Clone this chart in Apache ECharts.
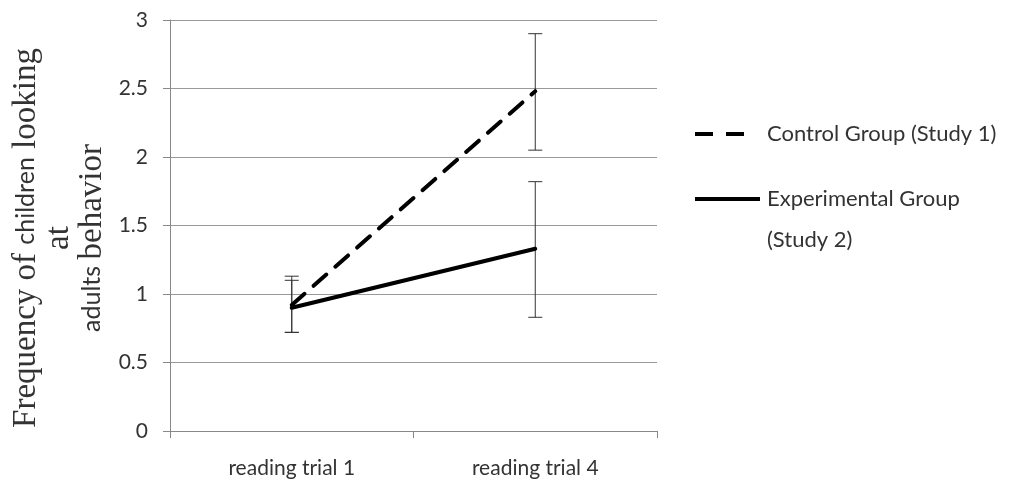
<!DOCTYPE html>
<html>
<head>
<meta charset="utf-8">
<script src="https://cdn.jsdelivr.net/npm/echarts@6/dist/echarts.min.js"></script>
<style>html,body{margin:0;padding:0;background:#fff}#c{width:1009px;height:487px}</style>
</head>
<body>
<div id="c"></div>
<script>
const categories = ['reading trial 1', 'reading trial 4'];
const controlValues = [0.92, 2.48];
const controlUpper = [1.13, 2.90];
const controlLower = [0.72, 2.05];
const experimentalValues = [0.90, 1.33];
const experimentalUpper = [1.10, 1.82];
const experimentalLower = [0.72, 0.83];
const yTicks = [0, 0.5, 1, 1.5, 2, 2.5, 3];

const chart = echarts.init(document.getElementById('c'), null, {renderer: 'canvas'});
const labelFont = 'Lato, "Open Sans", sans-serif';

function errData(up, lo) { return categories.map((c, i) => [i, lo[i], up[i]]); }
function errorRender(params, api) {
  const x = api.value(0);
  const lo = api.coord([x, api.value(1)]);
  const hi = api.coord([x, api.value(2)]);
  const w = 7;
  const st = {stroke: '#333', lineWidth: 1};
  return {type: 'group', children: [
    {type: 'line', shape: {x1: lo[0], y1: lo[1], x2: hi[0], y2: hi[1]}, style: st},
    {type: 'line', shape: {x1: hi[0]-w, y1: hi[1], x2: hi[0]+w, y2: hi[1]}, style: st},
    {type: 'line', shape: {x1: lo[0]-w, y1: lo[1], x2: lo[0]+w, y2: lo[1]}, style: st}
  ]};
}

chart.setOption({
  animation: false,
  backgroundColor: '#fff',
  grid: {left: 170, right: 352, top: 20, bottom: 56, containLabel: false},
  xAxis: {
    type: 'category', data: categories, boundaryGap: true,
    axisLine: {lineStyle: {color: '#888', width: 1}},
    axisTick: {show: true, length: 7, lineStyle: {color: '#888'}},
    axisLabel: {color: '#333', fontSize: 21, fontFamily: labelFont, margin: 27}
  },
  yAxis: {
    type: 'value', min: yTicks[0], max: yTicks[yTicks.length-1], interval: 0.5,
    axisLine: {show: true, lineStyle: {color: '#888', width: 1}},
    axisTick: {show: true, length: 7, lineStyle: {color: '#888'}},
    axisLabel: {color: '#333', fontSize: 21, fontFamily: labelFont, margin: 22},
    splitLine: {show: true, lineStyle: {color: '#999', width: 1}}
  },
  series: [
    {name: 'Control Group (Study 1)', type: 'line', data: controlValues, symbol: 'none',
     lineStyle: {color: '#000', width: 4, type: [17, 12], cap: 'round'}, z: 3},
    {name: 'Experimental Group (Study 2)', type: 'line', data: experimentalValues, symbol: 'none',
     lineStyle: {color: '#000', width: 4, cap: 'round'}, z: 3},
    {type: 'custom', renderItem: errorRender, data: errData(controlUpper, controlLower), z: 2, silent: true},
    {type: 'custom', renderItem: errorRender, data: errData(experimentalUpper, experimentalLower), z: 2, silent: true}
  ],
  graphic: [
    {type: 'text', x: 59, y: 238, rotation: Math.PI/2,
     style: {
       text: '{s|Frequency of }{a|children}{s| looking}\n{s|at}\n{a|adults }{s|behavior}',
       align: 'center', verticalAlign: 'middle', fill: '#333', lineHeight: 33,
       rich: {
         s: {fontFamily: '"Liberation Serif", "DejaVu Serif", serif', fontSize: 33, fill: '#333', lineHeight: 33},
         a: {fontFamily: labelFont, fontSize: 25, fill: '#333', lineHeight: 33}
       }
     }},
    {type: 'line', shape: {x1: 695, y1: 134, x2: 745, y2: 134},
     style: {stroke: '#000', lineWidth: 4, lineDash: [18, 13]}},
    {type: 'text', x: 767, y: 134, style: {text: 'Control Group (Study 1)', fontFamily: labelFont, fontSize: 22, fill: '#333', verticalAlign: 'middle'}},
    {type: 'line', shape: {x1: 695, y1: 199, x2: 760, y2: 199},
     style: {stroke: '#000', lineWidth: 4}},
    {type: 'text', x: 767, y: 199, style: {text: 'Experimental Group', fontFamily: labelFont, fontSize: 22, fill: '#333', verticalAlign: 'middle'}},
    {type: 'text', x: 767, y: 240, style: {text: '(Study 2)', fontFamily: labelFont, fontSize: 22, fill: '#333', verticalAlign: 'middle'}}
  ]
});
</script>
</body>
</html>
